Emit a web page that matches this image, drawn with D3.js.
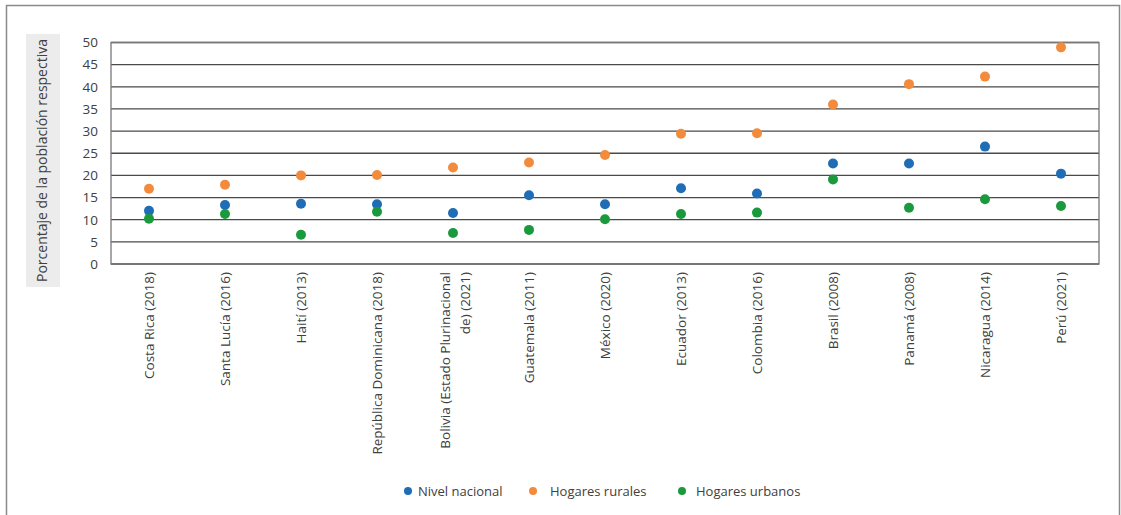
<!DOCTYPE html>
<html>
<head>
<meta charset="utf-8">
<script src="https://cdn.jsdelivr.net/npm/d3@7"></script>
<style>
  body { margin: 0; background: #fff; }
  svg { display: block; font-family: "Open Sans", "Noto Sans", sans-serif; }
</style>
</head>
<body>
<svg id="chart" width="1121" height="515"></svg>
<script>
const categories = [
  "Costa Rica (2018)", "Santa Lucía (2016)", "Haití (2013)", "República Dominicana (2018)",
  "Bolivia (Estado Plurinacional|de) (2021)", "Guatemala (2011)", "México (2020)", "Ecuador (2013)",
  "Colombia (2016)", "Brasil (2008)", "Panamá (2008)", "Nicaragua (2014)", "Perú (2021)"
];
const nivelNacional   = [12.0, 13.3, 13.6, 13.5, 11.5, 15.5, 13.5, 17.1, 15.9, 22.7, 22.7, 26.5, 20.4];
const hogaresRurales  = [17.0, 17.9, 20.0, 20.1, 21.8, 22.9, 24.6, 29.4, 29.5, 36.0, 40.6, 42.3, 48.9];
const hogaresUrbanos  = [10.2, 11.3, 6.6, 11.8, 7.0, 7.7, 10.1, 11.3, 11.6, 19.1, 12.7, 14.6, 13.1];
const yTicks = [0, 5, 10, 15, 20, 25, 30, 35, 40, 45, 50];
const seriesNames = ["Nivel nacional", "Hogares rurales", "Hogares urbanos"];
const seriesColors = ["#1f6db6", "#f28c3c", "#1a9a3d"];
const yTitle = "Porcentaje de la población respectiva";

const series = [
  { name: seriesNames[0], values: nivelNacional, color: seriesColors[0] },
  { name: seriesNames[1], values: hogaresRurales, color: seriesColors[1] },
  { name: seriesNames[2], values: hogaresUrbanos, color: seriesColors[2] }
];

const svg = d3.select("#chart");
const W = 1121, H = 515;
const plot = { left: 111, right: 1099, top: 42.5, bottom: 264 };

// outer frame (bottom edge off-canvas)
svg.append("path")
  .attr("d", `M6.5,${H + 5} L6.5,5.5 L1119.5,5.5 L1119.5,${H + 5}`)
  .attr("fill", "none").attr("stroke", "#8a8a8a").attr("stroke-width", 1.5);

const x = d3.scaleBand().domain(categories).range([plot.left, plot.right]);
const y = d3.scaleLinear().domain([0, 50]).range([plot.bottom, plot.top]);

// gridlines
svg.append("g").selectAll("line").data(yTicks).join("line")
  .attr("x1", plot.left).attr("x2", plot.right)
  .attr("y1", d => y(d)).attr("y2", d => y(d))
  .attr("stroke", "#4a4a4a").attr("stroke-width", 1.3);

// plot border
svg.append("rect")
  .attr("x", plot.left).attr("y", plot.top)
  .attr("width", plot.right - plot.left).attr("height", plot.bottom - plot.top)
  .attr("fill", "none").attr("stroke", "#777").attr("stroke-width", 1.3);

// y axis
const yAxis = svg.append("g")
  .attr("transform", `translate(${plot.left},0)`)
  .call(d3.axisLeft(y).tickValues(yTicks).tickSize(0).tickPadding(13));
yAxis.select(".domain").remove();
yAxis.selectAll("text").attr("font-size", 13.5).attr("fill", "#404040")
  .attr("font-family", "'Open Sans', sans-serif");

// y title box
svg.append("rect").attr("x", 26).attr("y", 34).attr("width", 34).attr("height", 253).attr("fill", "#ececec");
svg.append("text")
  .attr("transform", `translate(47,${(34 + 287) / 2}) rotate(-90)`)
  .attr("text-anchor", "middle")
  .attr("font-size", 14).attr("fill", "#404040")
  .text(yTitle);

// x axis labels
const xAxis = svg.append("g")
  .attr("transform", `translate(0,${plot.bottom})`)
  .call(d3.axisBottom(x).tickSize(0).tickFormat(""));
xAxis.select(".domain").remove();
const xl = svg.append("g");
categories.forEach(c => {
  const lines = c.split("|");
  const cx = x(c) + x.bandwidth() / 2;
  const t = xl.append("text")
    .attr("transform", `translate(${cx},272) rotate(-90)`)
    .attr("text-anchor", "end")
    .attr("font-size", 13.5).attr("fill", "#404040");
  const n = lines.length;
  lines.forEach((ln, i) => {
    t.append("tspan").attr("x", 0)
      .attr("dy", i === 0 ? (n === 1 ? 4.5 : -3.5) : 20)
      .text(ln);
  });
});

// points
series.forEach(s => {
  svg.append("g").selectAll("circle").data(s.values).join("circle")
    .attr("cx", (d, i) => x(categories[i]) + x.bandwidth() / 2)
    .attr("cy", d => y(d))
    .attr("r", 5)
    .attr("fill", s.color);
});

// legend
const legendPos = [
  { dot: 408, text: 418 },
  { dot: 533, text: 550 },
  { dot: 682, text: 696 }
];
const lg = svg.append("g");
series.forEach((s, i) => {
  lg.append("circle").attr("cx", legendPos[i].dot).attr("cy", 491).attr("r", 4).attr("fill", s.color);
  lg.append("text").attr("x", legendPos[i].text).attr("y", 495.5)
    .attr("font-size", 13).attr("fill", "#404040").text(s.name);
});
</script>
</body>
</html>
